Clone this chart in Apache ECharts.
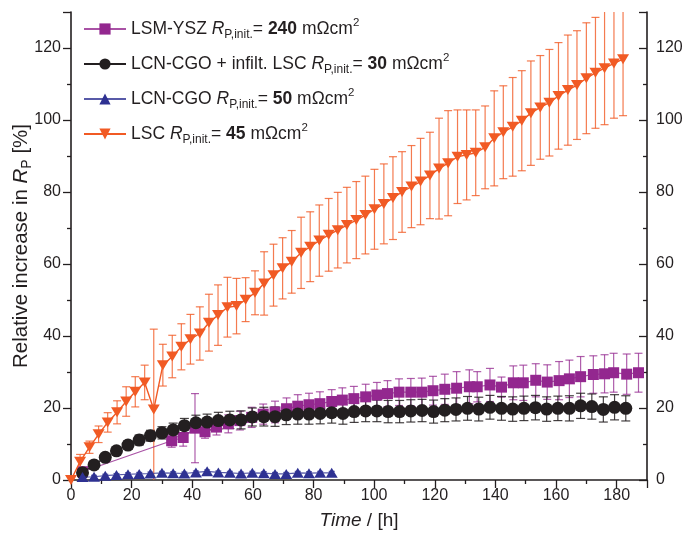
<!DOCTYPE html>
<html><head><meta charset="utf-8">
<script src="https://cdn.jsdelivr.net/npm/echarts@6/dist/echarts.min.js"></script>
<style>html,body{margin:0;padding:0;background:#fff}#c{width:696px;height:538px}</style>
</head><body><div id="c"></div>
<script>
// ---- data ----
const lsmTime = [3.8,33.2,37.0,40.9,44.2,48.0,51.9,55.7,59.6,63.4,67.3,71.1,74.8,78.5,82.1,86.0,89.5,93.3,97.2,100.9,104.4,108.2,112.1,115.7,119.4,123.3,127.2,131.4,134.0,138.2,142.0,145.9,149.2,153.3,157.1,161.0,164.4,168.1,172.3,176.0,179.0,183.3,187.2];
const lsmValue = [2.3,10.9,11.8,14.4,13.4,14.7,15.6,16.5,17.4,18.3,18.9,19.8,20.5,20.9,21.2,21.8,22.2,22.6,23.1,23.6,24.0,24.4,24.4,24.4,24.8,25.2,25.5,25.9,25.9,26.4,25.8,27.0,27.0,27.7,27.2,27.6,28.1,28.7,29.3,29.5,29.8,29.4,29.8];
const lsmErr = [0.6,1.8,2.4,9.6,1.8,2.2,2.5,2.6,2.8,2.8,3.0,3.0,3.2,3.2,3.3,3.3,3.4,3.4,3.5,3.5,3.6,3.7,3.8,3.9,4.0,4.2,4.6,4.7,4.2,4.6,2.8,4.7,4.9,4.6,4.8,5.3,5.2,5.6,5.2,5.3,5.4,5.6,5.4];

const infTime = [3.8,7.6,11.3,15.0,18.8,22.5,26.2,30.0,33.7,37.4,41.2,44.9,48.6,52.4,56.1,59.8,63.6,67.3,71.0,74.8,78.5,82.2,86.0,89.7,93.4,97.2,100.9,104.6,108.4,112.1,115.8,119.6,123.3,127.0,130.8,134.5,138.2,142.0,145.7,149.4,153.2,156.9,160.6,164.4,168.1,171.8,175.6,179.3,183.0];
const infValue = [2.0,4.2,6.3,8.1,9.7,11.1,12.3,13.1,13.9,15.1,15.9,16.1,16.5,16.7,16.7,17.5,17.6,17.6,18.1,18.3,18.3,18.5,18.7,18.5,19.0,19.2,19.2,19.0,19.0,19.2,19.3,19.0,19.4,19.6,19.9,19.7,20.2,19.9,19.7,19.9,20.1,19.7,19.9,19.9,20.6,20.4,19.6,20.2,19.9];
const infErr = [0.6,0.8,0.9,1.0,1.2,1.4,1.5,1.7,1.9,2.0,2.1,2.2,2.3,2.4,2.5,2.5,2.6,2.7,2.7,2.8,2.8,2.9,2.9,3.0,3.0,3.0,3.0,3.1,3.1,3.1,3.1,3.2,3.2,3.2,3.3,3.3,3.3,3.3,3.4,3.4,3.4,3.4,3.4,3.5,3.5,3.5,3.5,3.5,3.5];

const lcnTime = [3.8,7.6,11.3,15.0,18.8,22.5,26.2,30.0,33.7,37.4,41.2,44.9,48.6,52.4,56.1,59.8,63.6,67.3,71.0,74.8,78.5,82.2,86.0];
const lcnValue = [0.8,0.9,1.2,1.4,1.6,1.7,1.8,2.0,1.9,1.8,2.1,2.4,2.1,2.0,1.8,2.0,1.9,1.7,1.7,2.0,1.9,2.0,2.0];
const lcnErr = [0.4,0.4,0.4,0.4,0.4,0.4,0.4,0.4,0.4,0.4,0.4,0.4,0.4,0.4,0.4,0.4,0.4,0.4,0.4,0.4,0.4,0.4,0.4];

const lscTime = [0,3.0,6.1,9.1,12.1,15.2,18.2,21.2,24.3,27.3,30.3,33.4,36.4,39.4,42.5,45.5,48.5,51.6,54.6,57.6,60.7,63.7,66.8,69.8,72.8,75.9,78.9,81.9,85.0,88.0,91.0,94.1,97.1,100.1,103.2,106.2,109.2,112.3,115.3,118.4,121.4,124.4,127.5,130.5,133.5,136.6,139.6,142.6,145.7,148.7,151.7,154.8,157.8,160.8,163.9,166.9,170.0,173.0,176.0,179.1,182.1];
const lscValue = [0,5.1,9.1,12.7,16.0,18.8,21.8,24.5,27.1,19.6,31.9,34.3,37.0,39.1,40.7,43.7,45.8,48.0,48.3,50.1,52.0,54.6,56.9,58.8,60.6,63.1,64.8,66.5,68.1,69.4,70.8,72.2,73.6,75.2,76.7,78.3,80.0,81.5,82.9,84.6,86.5,88.0,89.8,90.3,90.9,92.4,94.9,96.6,98.1,99.8,101.9,103.5,104.8,106.7,108.3,109.7,111.6,113.1,114.4,115.7,116.9];
const lscErr = [0,2.0,1.7,2.3,2.7,3.2,4.1,4.2,4.8,22.3,5.8,5.9,6.4,6.9,7.4,7.9,8.4,8.3,7.7,6.1,6.1,8.8,8.6,8.5,8.7,9.9,9.7,9.9,10.1,10.5,10.5,10.7,10.8,11.1,11.1,11.5,11.2,11.4,12.0,12.0,14.0,14.6,13.0,12.5,11.9,11.5,13.2,12.9,13.7,13.9,14.5,14.4,14.8,14.8,15.3,15.1,15.4,15.4,15.7,15.2,15.7];

const xMin = 0, xMax = 190, xStep = 20;
const yMin = 0, yMax = 130, yStep = 20;

const seriesNames = ['LSM-YSZ', 'LCN-CGO + infilt. LSC', 'LCN-CGO', 'LSC'];
const rpInit = ['240', '30', '50', '45'];

// ---- styling ----
const FONT = 'Liberation Sans, Arial, Helvetica, sans-serif';
const TXT = '#231f20';
const C_LSM = '#93278f', C_INF = '#231f20', C_LCN = '#2e3192', C_LSC = '#f15a24';

function zip(t, v, e) { return t.map((x, i) => [x, v[i], e[i]]); }

function errRender(color, cap, lw) {
  return function (params, api) {
    const x = api.value(0), v = api.value(1), e = api.value(2);
    if (!e) return null;
    let hi = v + e, lo = v - e;
    const hiClip = hi > yMax, loClip = lo < yMin;
    hi = Math.min(hi, yMax); lo = Math.max(lo, yMin);
    const a = api.coord([x, hi]), b = api.coord([x, lo]);
    const st = { stroke: color, lineWidth: lw };
    const ch = [{ type: 'line', shape: { x1: a[0], y1: a[1], x2: b[0], y2: b[1] }, style: st }];
    if (!hiClip) ch.push({ type: 'line', shape: { x1: a[0] - cap / 2, y1: a[1], x2: a[0] + cap / 2, y2: a[1] }, style: st });
    if (!loClip) ch.push({ type: 'line', shape: { x1: b[0] - cap / 2, y1: b[1], x2: b[0] + cap / 2, y2: b[1] }, style: st });
    return { type: 'group', children: ch };
  };
}

function errSeries(data, color, cap) {
  return { type: 'custom', data: data, renderItem: errRender(color, cap, 1.2), encode: { x: 0, y: 1 }, silent: true, z: 2 };
}

const richTxt = {
  t: { fontSize: 17.5, fontFamily: FONT, color: TXT, lineHeight: 24 },
  i: { fontSize: 17.5, fontFamily: FONT, color: TXT, fontStyle: 'italic', lineHeight: 24 },
  b: { fontSize: 17.5, fontFamily: FONT, color: TXT, fontWeight: 'bold', lineHeight: 24 },
  s: { fontSize: 12, fontFamily: FONT, color: TXT, verticalAlign: 'bottom', lineHeight: 7 },
  p: { fontSize: 11.5, fontFamily: FONT, color: TXT, verticalAlign: 'top', lineHeight: 6 }
};

const legendText = {};
seriesNames.forEach((n, k) => {
  legendText[n] = '{t|' + n + ' }{i|R}{s|P,init.}{t|= }{b|' + rpInit[k] + '}{t| m\u03A9cm}{p|2}';
});

const axisCommon = {
  type: 'value',
  axisLine: { show: true, lineStyle: { color: TXT, width: 1.6 } },
  axisTick: { show: true, length: 8, lineStyle: { color: TXT, width: 1.3 } },
  minorTick: { show: true, splitNumber: 2, length: 4, lineStyle: { color: TXT, width: 1.3 } },
  splitLine: { show: false },
  axisLabel: { color: TXT, fontSize: 16, fontFamily: FONT, showMaxLabel: false }
};

const option = {
  animation: false,
  backgroundColor: '#fff',
  grid: { left: 71, right: 49, top: 12, bottom: 58, containLabel: false, outerBoundsMode: 'none' },
  legend: {
    orient: 'vertical', left: 78, top: 12, itemWidth: 42, itemHeight: 14, itemGap: 11,
    selectedMode: false, data: seriesNames,
    formatter: n => legendText[n],
    textStyle: { rich: richTxt, fontSize: 17.5, fontFamily: FONT, color: TXT }
  },
  xAxis: Object.assign({}, axisCommon, {
    min: xMin, max: xMax, interval: xStep,
    axisLabel: Object.assign({}, axisCommon.axisLabel, { margin: 8 }),
    name: '{i|Time}{t| / [h]}', nameLocation: 'middle', nameGap: 31, nameMoveOverlap: false,
    nameTextStyle: { rich: { i: { fontSize: 19, fontStyle: 'italic', fontFamily: FONT, color: TXT }, t: { fontSize: 19, fontFamily: FONT, color: TXT } } }
  }),
  yAxis: [
    Object.assign({}, axisCommon, {
      min: yMin, max: yMax, interval: yStep, position: 'left',
      axisLabel: Object.assign({}, axisCommon.axisLabel, { margin: 10 }),
      name: '{t|Relative increase in }{i|R}{s|P}{t| [%]}', nameLocation: 'middle', nameGap: 37, nameMoveOverlap: false,
      nameTextStyle: { rich: {
        t: { fontSize: 20.5, fontFamily: FONT, color: TXT, lineHeight: 26 },
        i: { fontSize: 20.5, fontFamily: FONT, color: TXT, fontStyle: 'italic', lineHeight: 26 },
        s: { fontSize: 14, fontFamily: FONT, color: TXT, verticalAlign: 'bottom', lineHeight: 10 } } }
    }),
    Object.assign({}, axisCommon, {
      min: yMin, max: yMax, interval: yStep, position: 'right',
      axisTick: Object.assign({}, axisCommon.axisTick, { inside: true }),
      minorTick: Object.assign({}, axisCommon.minorTick),
      axisLabel: Object.assign({}, axisCommon.axisLabel, { margin: 9 })
    })
  ],
  series: [
    errSeries(zip(lsmTime, lsmValue, lsmErr), 'rgba(147,39,143,0.75)', 8),
    { name: seriesNames[0], type: 'line', data: lsmTime.map((t, i) => [t, lsmValue[i]]), symbol: 'rect', symbolSize: 11,
      itemStyle: { color: C_LSM }, lineStyle: { color: 'rgba(147,39,143,0.8)', width: 1.2 }, z: 3 },
    errSeries(zip(infTime, infValue, infErr), 'rgba(35,31,32,0.85)', 9),
    { name: seriesNames[1], type: 'line', data: infTime.map((t, i) => [t, infValue[i]]), symbol: 'circle', symbolSize: 13,
      itemStyle: { color: C_INF }, lineStyle: { color: C_INF, width: 1.2 }, z: 4 },
    errSeries(zip(lcnTime, lcnValue, lcnErr), 'rgba(46,49,146,0.8)', 6),
    { name: seriesNames[2], type: 'line', data: lcnTime.map((t, i) => [t, lcnValue[i]]), symbol: 'triangle', symbolSize: [12, 10],
      itemStyle: { color: C_LCN }, lineStyle: { color: 'rgba(46,49,146,0.8)', width: 1.2 }, z: 5 },
    errSeries(zip(lscTime, lscValue, lscErr), 'rgba(241,90,36,0.8)', 8),
    { name: seriesNames[3], type: 'line', data: lscTime.map((t, i) => [t, lscValue[i]]), symbol: 'triangle', symbolRotate: 180, symbolSize: [12, 10],
      itemStyle: { color: C_LSC }, lineStyle: { color: C_LSC, width: 1.4 }, z: 6 }
  ]
};

const chart = echarts.init(document.getElementById('c'), null, { renderer: 'canvas' });
chart.setOption(option);
</script>
</body></html>
